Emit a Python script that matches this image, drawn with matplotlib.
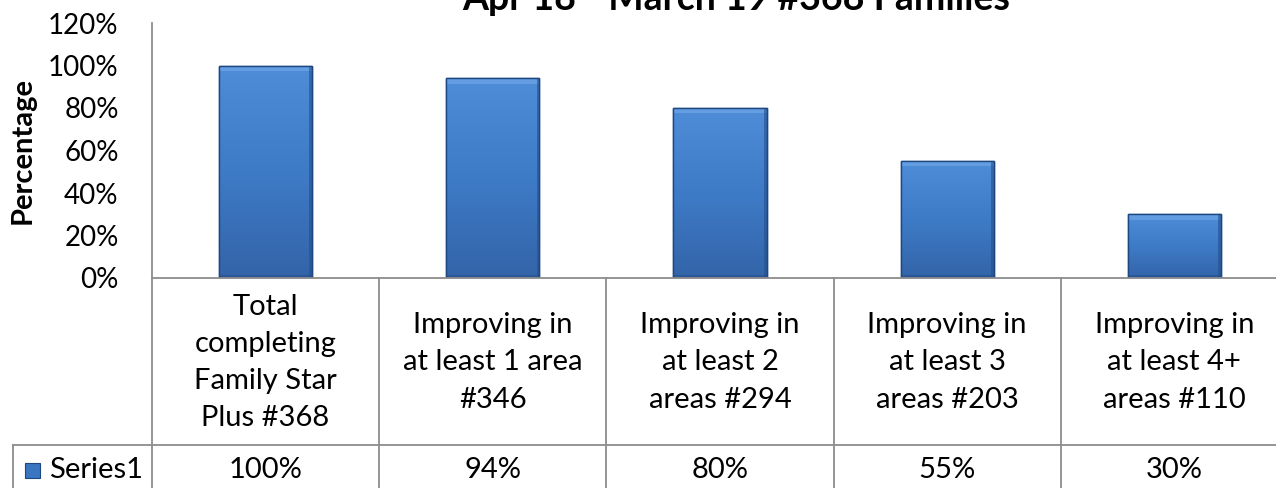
import matplotlib
matplotlib.use("Agg")
import matplotlib.pyplot as plt
import numpy as np
from matplotlib.lines import Line2D
from matplotlib.patches import Rectangle
from matplotlib.transforms import blended_transform_factory
from matplotlib.ticker import FuncFormatter
from matplotlib.colors import LinearSegmentedColormap

plt.rcParams['font.family'] = ['Lato', 'DejaVu Sans']

title = "Apr 18 - March 19 #368 Families"
categories = ["Total\ncompleting\nFamily Star\nPlus #368",
              "Improving in\nat least 1 area\n#346",
              "Improving in\nat least 2\nareas #294",
              "Improving in\nat least 3\nareas #203",
              "Improving in\nat least 4+\nareas #110"]
series_name = "Series1"
values = [1.00, 0.94, 0.80, 0.55, 0.30]
value_labels = ["100%", "94%", "80%", "55%", "30%"]
yticks = [0, 0.2, 0.4, 0.6, 0.8, 1.0, 1.2]

W, H = 1276, 488
fig = plt.figure(figsize=(W / 100, H / 100), dpi=100)

def fy(y):  # pixel from top -> figure fraction
    return 1 - y / H

def fx(x):
    return x / W

plot_top, plot_bot = 23, 278
ax_left, ax_right = 152, 1288
ax = fig.add_axes([fx(ax_left), fy(plot_bot), fx(ax_right - ax_left), (plot_bot - plot_top) / H])
ax.set_xlim(-0.5, len(categories) - 0.5)
ax.set_ylim(0, 1.2)
ax.set_yticks(yticks)
ax.yaxis.set_major_formatter(FuncFormatter(lambda v, p: f"{int(round(v * 100))}%"))
ax.tick_params(axis='y', length=0, pad=24, labelsize=20, labelcolor='black')
ax.set_xticks([])
for s in ['top', 'right', 'left', 'bottom']:
    ax.spines[s].set_visible(False)

grey = '#8c8c8c'
x = np.arange(len(categories))
bars = ax.bar(x, values, width=0.41, color='#3a75c2', edgecolor='#1c477f', linewidth=1.0, zorder=3)

# gradient fill for each bar
cmap = LinearSegmentedColormap.from_list('b', ['#4f8dd8', '#3e7bc7', '#3364a8'])
grad = np.linspace(0, 1, 256).reshape(-1, 1)
for b in bars:
    x0, y0 = b.get_x(), b.get_y()
    w, h = b.get_width(), b.get_height()
    im = ax.imshow(grad, extent=[x0, x0 + w, y0, y0 + h], aspect='auto', cmap=cmap,
                   zorder=3.5, origin='upper')
    im.set_clip_path(b)
    # bevels
    ax.add_patch(Rectangle((x0, y0 + h - 0.025), w, 0.025,
                           facecolor='#7fb2ee', edgecolor='none', alpha=0.45, zorder=3.6))
    ax.add_patch(Rectangle((x0 + w - 0.012, y0), 0.012, h,
                           facecolor='#244f8c', edgecolor='none', alpha=0.6, zorder=3.6))
    ax.add_patch(Rectangle((x0, y0), w, 0.012,
                           facecolor='#244f8c', edgecolor='none', alpha=0.6, zorder=3.6))
    ax.add_patch(Rectangle((x0, y0), w, h, fill=False, edgecolor='#1c477f', lw=1.0, zorder=3.7))
ax.set_xlim(-0.5, len(categories) - 0.5)
ax.set_ylim(0, 1.2)

ax.set_ylabel("Percentage", fontsize=21, fontweight='bold')
ax.yaxis.set_label_coords(fx(36 - ax_left) / fx(ax_right - ax_left), 0.5)

fig.text(fx(736), fy(10), title, ha='center', va='baseline', fontsize=27, fontweight='bold')

# table grid
row1_top, row1_bot, row2_bot = 278, 445, 520
bt = blended_transform_factory(ax.transData, fig.transFigure)
fig.add_artist(Line2D([fx(ax_left), fx(ax_left)], [fy(plot_top), fy(row2_bot)], color=grey, lw=1.3))
fig.add_artist(Line2D([fx(ax_left), 1.0], [fy(row1_top), fy(row1_top)], color=grey, lw=1.3))
fig.add_artist(Line2D([fx(13), 1.0], [fy(row1_bot), fy(row1_bot)], color=grey, lw=1.3))
fig.add_artist(Line2D([fx(13), fx(13)], [fy(row1_bot), fy(row2_bot)], color=grey, lw=1.3))
for i in range(len(categories) - 1):
    fig.add_artist(Line2D([i + 0.5, i + 0.5], [fy(row1_top), fy(row2_bot)], color=grey, lw=1.3,
                          transform=bt))

for i, (c, v) in enumerate(zip(categories, value_labels)):
    fig.text(i, fy((row1_top + row1_bot) / 2 + 1), c, transform=bt, ha='center', va='center',
             fontsize=21, linespacing=1.53)
    fig.text(i, fy(470), v, transform=bt, ha='center', va='center', fontsize=21)

# legend key in table
fig.add_artist(Rectangle((fx(25), fy(478)), fx(15), 15 / H, facecolor='#3a75c2',
                         edgecolor='#1c477f', lw=0.8, transform=fig.transFigure))
fig.text(fx(49), fy(470), series_name, ha='left', va='center', fontsize=21)

fig.savefig("out.png", dpi=100)
